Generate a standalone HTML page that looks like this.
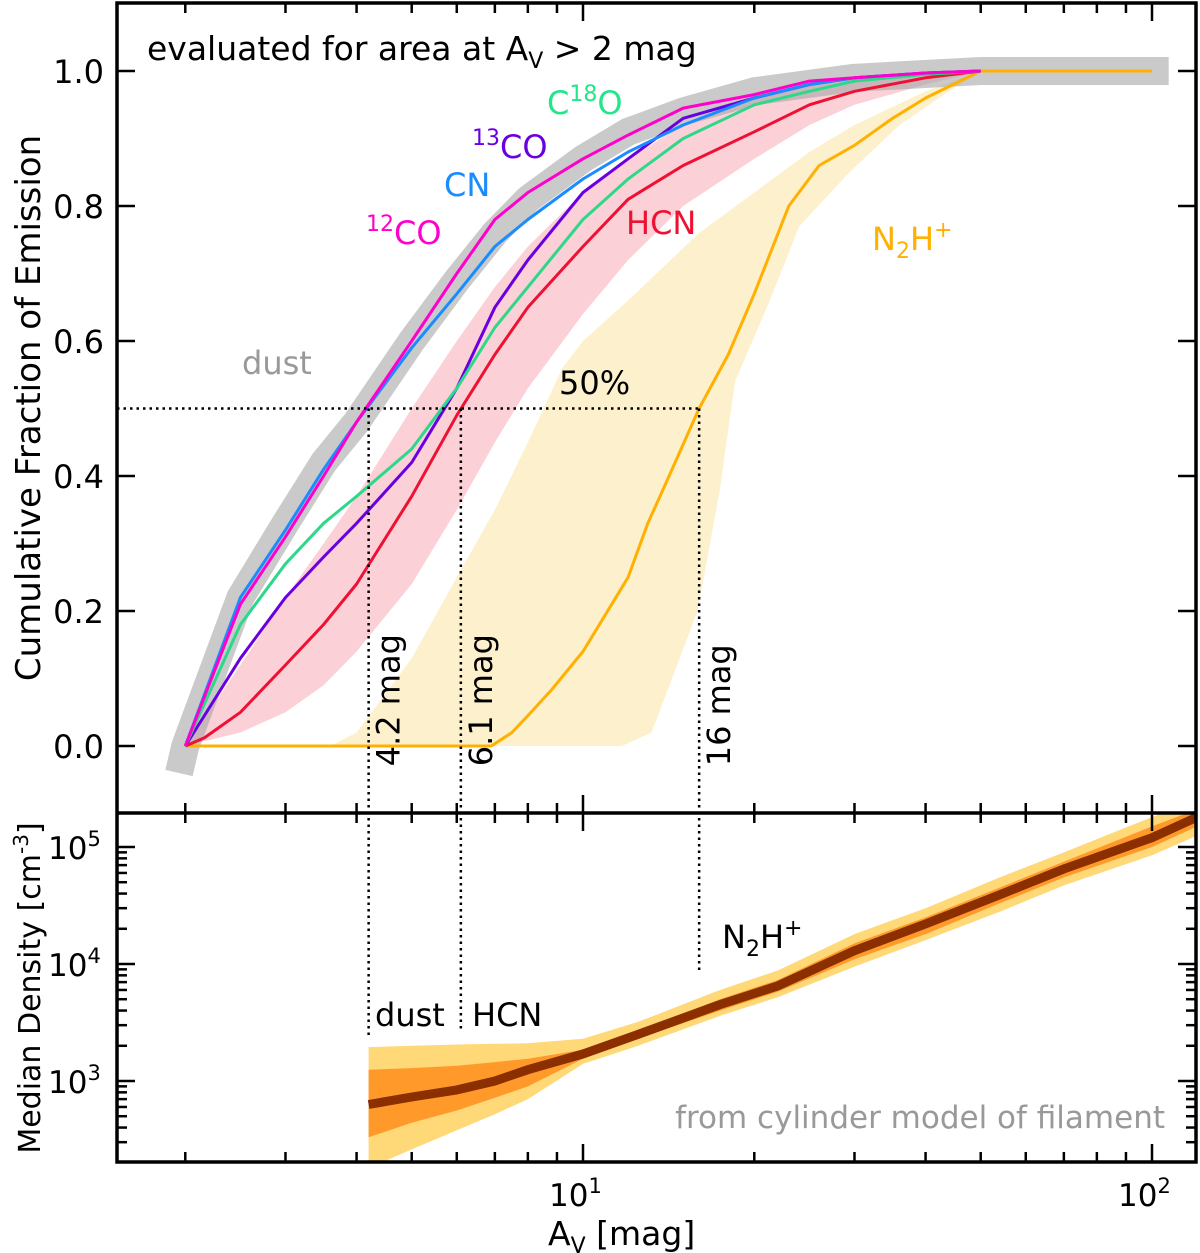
<!DOCTYPE html>
<html><head><meta charset="utf-8">
<style>
html,body{margin:0;padding:0;background:#fff;}
svg{display:block;font-family:"DejaVu Sans","Liberation Sans",sans-serif;}
</style></head>
<body>
<svg id="chart" width="1200" height="1253" viewBox="0 0 1200 1253" xmlns="http://www.w3.org/2000/svg"></svg>
<script>
// ---- data ----
const avGrid = [2, 2.5, 3, 3.5, 4, 5, 6, 7, 8, 10, 12, 15, 20, 25, 30, 40, 50];
const co12 = [0, 0.21, 0.31, 0.40, 0.48, 0.60, 0.70, 0.78, 0.82, 0.87, 0.905, 0.945, 0.965, 0.985, 0.99, 0.997, 1];
const cn = [0, 0.22, 0.32, 0.41, 0.48, 0.59, 0.67, 0.74, 0.78, 0.84, 0.88, 0.92, 0.96, 0.98, 0.99, 0.997, 1];
const c18o = [0, 0.18, 0.27, 0.33, 0.37, 0.44, 0.53, 0.62, 0.68, 0.78, 0.84, 0.90, 0.95, 0.97, 0.985, 0.995, 1];
const co13 = [0, 0.13, 0.22, 0.28, 0.33, 0.42, 0.53, 0.65, 0.72, 0.82, 0.87, 0.93, 0.96, 0.98, 0.99, 0.997, 1];
const hcnAv = [2, 2.16, 2.5, 3, 3.5, 4, 5, 6, 7, 8, 10, 12, 15, 20, 25, 30, 40, 50];
const hcn = [0, 0.012, 0.05, 0.12, 0.18, 0.24, 0.37, 0.49, 0.58, 0.65, 0.74, 0.81, 0.86, 0.91, 0.95, 0.97, 0.99, 1];
const hcnUpper = [0, 0.12, 0.22, 0.30, 0.37, 0.50, 0.60, 0.68, 0.74, 0.82, 0.87, 0.92, 0.96, 0.98, 0.99, 0.997, 1];
const hcnLower = [0, 0.02, 0.05, 0.09, 0.14, 0.24, 0.35, 0.45, 0.53, 0.64, 0.72, 0.80, 0.87, 0.92, 0.95, 0.98, 1];
const dustAv = [1.95, 2, 2.5, 3, 3.5, 4, 5, 6, 7, 8, 10, 12, 15, 20, 30, 50, 107];
const dust = [-0.04, 0, 0.22, 0.33, 0.42, 0.48, 0.60, 0.69, 0.76, 0.81, 0.87, 0.91, 0.94, 0.97, 0.99, 1, 1];
const n2hAv = [2, 6.9, 7.5, 8, 8.8, 10, 12, 13, 14, 16, 18, 20, 23, 26, 30, 35, 40, 50, 100];
const n2h = [0, 0, 0.02, 0.045, 0.083, 0.14, 0.25, 0.33, 0.39, 0.50, 0.58, 0.67, 0.80, 0.86, 0.89, 0.93, 0.96, 1, 1];
const n2hBandUpperAv = [3.6, 4, 5, 6, 7, 8, 9.2, 10, 12, 16, 20, 25, 30, 40, 50];
const n2hBandUpper = [0, 0.02, 0.13, 0.25, 0.35, 0.45, 0.56, 0.6, 0.66, 0.76, 0.82, 0.88, 0.92, 0.97, 1];
const n2hBandLowerAv = [3.6, 11.7, 13.2, 15.9, 17.4, 18.5, 21.3, 24, 29.4, 36, 44, 50];
const n2hBandLower = [0, 0, 0.02, 0.2, 0.38, 0.54, 0.66, 0.77, 0.85, 0.92, 0.97, 1];
const densAv = [4.2, 5, 6, 7, 8, 10, 12.5, 17.4, 22, 30, 40, 54, 70, 100, 120];
const densMedian = [630, 730, 840, 1000, 1250, 1700, 2500, 4500, 6500, 13000, 22000, 39000, 65000, 120000, 180000];
const densMidUpper = [1250, 1290, 1350, 1450, 1550, 1850, 2700, 5000, 7300, 15000, 25000, 45000, 75000, 150000, 210000];
const densMidLower = [330, 440, 560, 720, 900, 1550, 2300, 4000, 5800, 11000, 18000, 33000, 55000, 100000, 150000];
const densLightUpper = [1950, 2000, 2050, 2080, 2100, 2300, 3200, 6000, 8800, 18000, 30000, 55000, 90000, 180000, 250000];
const densLightLower = [180, 260, 380, 520, 700, 1400, 2000, 3600, 5200, 9500, 16000, 28000, 47000, 85000, 125000];
const fracTicks = [0, 0.2, 0.4, 0.6, 0.8, 1.0];
const fracTickLabels = ["0.0", "0.2", "0.4", "0.6", "0.8", "1.0"];
const densDecades = [3, 4, 5];
const xDecades = [1, 2];
const markers = [4.2, 6.1, 16];
const markerLabels = ["4.2 mag", "6.1 mag", "16 mag"];

// ---- axes ----
const L = 117, R = 1196, T = 3, MID = 813, B = 1162;
const X = v => 583 + 569 * (Math.log10(v) - 1);
const Y = f => 746 - 675 * f;
const YD = d => 1081 - 117 * (Math.log10(d) - 3);
const svg = document.getElementById('chart');
const NS = 'http://www.w3.org/2000/svg';
function mk(tag, attrs, parent) {
  const e = document.createElementNS(NS, tag);
  for (const k in attrs) e.setAttribute(k, attrs[k]);
  (parent || svg).appendChild(e);
  return e;
}
const pts = (xs, ys, fy) => xs.map((v, i) => X(v).toFixed(1) + ',' + fy(ys[i]).toFixed(1));

const defs = mk('defs', {});
const cpT = mk('clipPath', {id: 'cTop'}, defs);
mk('rect', {x: L, y: T, width: R - L, height: MID - T}, cpT);
const cpB = mk('clipPath', {id: 'cBot'}, defs);
mk('rect', {x: L, y: MID, width: R - L, height: B - MID}, cpB);

const gTop = mk('g', {'clip-path': 'url(#cTop)'});



let band = mk('polygon', {points: pts(n2hBandUpperAv, n2hBandUpper, Y).concat(pts(n2hBandLowerAv, n2hBandLower, Y).reverse()).join(' '), fill: '#fdeec6', 'fill-opacity': 0.9}, gTop);


band = mk('polygon', {points: pts(avGrid, hcnUpper, Y).concat(pts(avGrid, hcnLower, Y).reverse()).join(' '), fill: '#f7a9b6', 'fill-opacity': 0.55}, gTop);


let ln = mk('polyline', {points: pts(dustAv, dust, Y).join(' '), fill: 'none', stroke: '#a6a6a6', 'stroke-opacity': 0.6, 'stroke-width': 28, 'stroke-linejoin': 'round'}, gTop);



const series = [
  ['n2h-curve', n2hAv, n2h, '#ffb000'],
  ['hcn-curve', hcnAv, hcn, '#ee1133'],
  ['co13-curve', avGrid, co13, '#6a00e0'],
  ['c18o-curve', avGrid, c18o, '#2ed88a'],
  ['cn-curve', avGrid, cn, '#1a8cff'],
  ['co12-curve', avGrid, co12, '#ff00cc'],
];
series.forEach(s => {
  const p = mk('polyline', {points: pts(s[1], s[2], Y).join(' '), fill: 'none', stroke: s[3], 'stroke-width': 3, 'stroke-linejoin': 'round'}, gTop);
  
  
});

const dot = {stroke: '#000', 'stroke-width': 2.5, 'stroke-dasharray': '2.5,4', fill: 'none'};
let d = mk('line', Object.assign({x1: L, x2: X(16), y1: Y(0.5), y2: Y(0.5)}, dot));


const markerEnds = [1037, 1030, 972];
markers.forEach((m, i) => {
  const l = mk('line', Object.assign({x1: X(m), x2: X(m), y1: Y(0.5), y2: markerEnds[i]}, dot));
  
  
  const t = mk('text', {x: 0, y: 0, 'font-size': 32, transform: `translate(${X(m) + 31},${Y(-0.03)}) rotate(-90)`});
  t.textContent = markerLabels[i];
  
  
});

const gBot = mk('g', {'clip-path': 'url(#cBot)'});


band = mk('polygon', {points: pts(densAv, densLightUpper, YD).concat(pts(densAv, densLightLower, YD).reverse()).join(' '), fill: '#ffd878'}, gBot);


band = mk('polygon', {points: pts(densAv, densMidUpper, YD).concat(pts(densAv, densMidLower, YD).reverse()).join(' '), fill: '#ff9a2a'}, gBot);


ln = mk('polyline', {points: pts(densAv, densMedian, YD).join(' '), fill: 'none', stroke: '#8b2e00', 'stroke-width': 9}, gBot);



let f = mk('rect', {x: L, y: T, width: R - L, height: B - T, fill: 'none', stroke: '#000', 'stroke-width': 3.5});


f = mk('line', {x1: L, x2: R, y1: MID, y2: MID, stroke: '#000', 'stroke-width': 3.5});



const gT = mk('g', {stroke: '#000', 'stroke-width': 2.5});


for (let dec = 0; dec <= 2; dec++) {
  for (let k = 1; k <= 9; k++) {
    const v = k * Math.pow(10, dec);
    if (v < 1.52 || v > 119) continue;
    const x = X(v), len = k === 1 ? 18 : 10;
    mk('line', {x1: x, x2: x, y1: T, y2: T + len}, gT);
    mk('line', {x1: x, x2: x, y1: MID - len, y2: MID + len}, gT);
    mk('line', {x1: x, x2: x, y1: B, y2: B - len}, gT);
  }
}
fracTicks.forEach((v, i) => {
  mk('line', {x1: L, x2: L + 18, y1: Y(v), y2: Y(v)}, gT);
  mk('line', {x1: R, x2: R - 18, y1: Y(v), y2: Y(v)}, gT);
  const t = mk('text', {x: 104, y: Y(v) + 12, 'font-size': 32, 'text-anchor': 'end'});
  t.textContent = fracTickLabels[i];
  
  
});
for (let dec = 2; dec <= 5; dec++) {
  for (let k = 1; k <= 9; k++) {
    const v = k * Math.pow(10, dec), y = YD(v);
    if (y < MID || y > B) continue;
    const len = k === 1 ? 18 : 10;
    mk('line', {x1: L, x2: L + len, y1: y, y2: y}, gT);
    mk('line', {x1: R, x2: R - len, y1: y, y2: y}, gT);
  }
}
densDecades.forEach(e => {
  const t = mk('text', {x: 48, y: YD(Math.pow(10, e)) + 12, 'font-size': 31});
  t.innerHTML = '10<tspan font-size="21" dy="-13">' + e + '</tspan>';
  
  
});
xDecades.forEach(e => {
  const t = mk('text', {x: X(Math.pow(10, e)) - 34, y: 1206, 'font-size': 31});
  t.innerHTML = '10<tspan font-size="21" dy="-13">' + e + '</tspan>';
  
  
});
</script>
<div style="position:absolute;left:0;top:0;width:1200px;height:1253px;pointer-events:none">
<svg width="1200" height="1253" style="position:absolute;left:0;top:0">
  <text x="147" y="60" font-size="33">evaluated for area at A<tspan font-size="22" dy="8">V</tspan><tspan dy="-8"> &gt; 2 mag</tspan></text>
  <text x="547" y="114" font-size="32" fill="#22e68a">C<tspan font-size="22" dy="-13">18</tspan><tspan dy="13">O</tspan></text>
  <text x="472" y="158" font-size="32" fill="#6a00e0"><tspan font-size="22" dy="-13">13</tspan><tspan dy="13">CO</tspan></text>
  <text x="444" y="196" font-size="32" fill="#1a8cff">CN</text>
  <text x="366" y="244" font-size="32" fill="#ff00cc"><tspan font-size="22" dy="-13">12</tspan><tspan dy="13">CO</tspan></text>
  <text x="626" y="234" font-size="32" fill="#ee1133">HCN</text>
  <text x="872" y="250" font-size="32" fill="#ffb000">N<tspan font-size="22" dy="8">2</tspan><tspan dy="-8">H</tspan><tspan font-size="22" dy="-13">+</tspan></text>
  <text x="242" y="374" font-size="32" fill="#999">dust</text>
  <text x="559" y="394" font-size="32">50%</text>
  <text x="375" y="1026" font-size="32">dust</text>
  <text x="472" y="1026" font-size="32">HCN</text>
  <text x="722" y="948" font-size="32">N<tspan font-size="22" dy="8">2</tspan><tspan dy="-8">H</tspan><tspan font-size="22" dy="-13">+</tspan></text>
  <text x="1165" y="1128" font-size="31" fill="#999" text-anchor="end">from cylinder model of filament</text>
  <text x="548" y="1245" font-size="33">A<tspan font-size="22" dy="8">V</tspan><tspan dy="-8">  [mag]</tspan></text>
  <text transform="translate(40,408) rotate(-90)" font-size="34" text-anchor="middle">Cumulative Fraction of Emission</text>
  <text transform="translate(40,988) rotate(-90)" font-size="30" text-anchor="middle">Median Density  [cm<tspan font-size="20" dy="-12">-3</tspan><tspan dy="12">]</tspan></text>
</svg>
</div>
</body></html>
